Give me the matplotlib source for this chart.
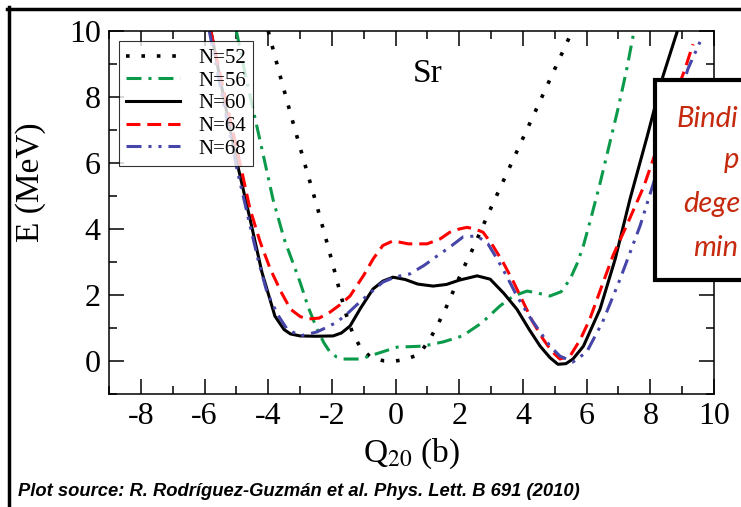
import numpy as np
import matplotlib
matplotlib.use("Agg")
import matplotlib.pyplot as plt
from matplotlib.lines import Line2D
from matplotlib.patches import Rectangle

# valeurs (Q20 en barn, E en MeV)
Q52 = [-4.0, -3.6, -3.2, -2.8, -2.47, -2.2, -1.95, -1.75, -1.55, -1.35, -1.1, -0.8,
       -0.4, 0.0, 0.3, 0.6, 0.85, 1.1, 1.35, 1.6, 1.85, 2.1, 2.4, 2.7, 3.0, 3.5,
       4.0, 4.5, 5.0, 5.5]
E52 = [10.0, 8.55, 7.15, 5.8, 4.7, 3.75, 2.85, 2.1, 1.4, 0.85, 0.4, 0.13,
       0.01, 0.0, 0.05, 0.15, 0.35, 0.7, 1.15, 1.65, 2.2, 2.75, 3.35, 4.0, 4.65, 5.7,
       6.75, 7.8, 8.85, 9.9]

Q56 = [-5.0, -4.7, -4.4, -4.1, -3.85, -3.5, -3.0, -2.75, -2.47, -2.25, -2.06, -1.85,
       -1.65, -1.1, -0.5, 0.05, 0.86, 1.5, 2.1, 2.7, 3.28, 3.7, 4.13, 4.5, 4.85, 5.2,
       5.48, 5.7, 5.9, 6.1, 6.4, 6.7, 7.0, 7.25, 7.47]
E56 = [10.0, 8.6, 7.3, 6.0, 4.9, 3.7, 2.39, 1.65, 0.97, 0.55, 0.27, 0.12,
       0.06, 0.06, 0.25, 0.42, 0.45, 0.58, 0.76, 1.15, 1.67, 1.97, 2.12, 2.05, 1.97, 2.1,
       2.48, 2.95, 3.5, 4.2, 5.3, 6.5, 7.7, 8.8, 9.9]

Q60 = [-5.8, -5.4, -5.0, -4.57, -4.2, -3.79, -3.5, -3.3, -3.0, -2.5, -1.96, -1.7,
       -1.43, -1.1, -0.71, -0.4, -0.08, 0.3, 0.7, 1.18, 1.6, 2.0, 2.56, 2.97, 3.4,
       3.81, 4.2, 4.54, 4.85, 5.1, 5.35, 5.57, 5.9, 6.42, 6.9, 7.36, 7.9, 8.4, 8.85]
E60 = [10.0, 8.0, 6.1, 4.3, 2.7, 1.36, 0.95, 0.82, 0.76, 0.75, 0.76, 0.85,
       1.06, 1.6, 2.18, 2.42, 2.54, 2.47, 2.33, 2.27, 2.32, 2.45, 2.58, 2.48, 2.05,
       1.57, 0.95, 0.45, 0.1, -0.1, -0.08, 0.06, 0.45, 1.57, 3.1, 4.9, 6.8, 8.64, 10.0]

Q64 = [-5.8, -5.4, -5.0, -4.57, -4.25, -3.94, -3.6, -3.3, -3.0, -2.78, -2.4, -2.06,
       -1.75, -1.43, -1.0, -0.7, -0.4, -0.08, 0.4, 0.99, 1.4, 1.7, 2.0, 2.24, 2.5,
       2.75, 3.05, 3.37, 3.7, 4.0, 4.3, 4.63, 4.9, 5.16, 5.48, 5.8, 6.1, 6.45, 6.83,
       7.3, 7.8, 8.3, 8.8, 9.09, 9.34]
E64 = [10.0, 8.2, 6.5, 4.6, 3.6, 2.8, 2.1, 1.57, 1.35, 1.27, 1.3, 1.48,
       1.7, 1.97, 2.6, 3.1, 3.5, 3.64, 3.55, 3.55, 3.7, 3.9, 4.0, 4.05, 4.0,
       3.9, 3.5, 3.0, 2.4, 1.8, 1.2, 0.67, 0.3, 0.06, 0.15, 0.65, 1.27, 2.2, 3.2,
       4.2, 5.3, 6.7, 8.1, 8.85, 9.6]

Q68 = [-5.85, -5.4, -5.0, -4.57, -4.3, -4.04, -3.7, -3.41, -3.0, -2.47, -2.1, -1.84,
       -1.5, -1.12, -0.75, -0.4, 0.0, 0.45, 0.9, 1.3, 1.7, 2.12, 2.56, 2.9, 3.19,
       3.5, 3.81, 4.2, 4.54, 4.85, 5.16, 5.57, 6.0, 6.5, 7.05, 7.68, 8.2, 8.7, 9.18, 9.56]
E68 = [10.0, 7.8, 5.9, 4.1, 3.0, 2.09, 1.4, 0.97, 0.76, 0.88, 1.05, 1.18,
       1.45, 1.79, 2.1, 2.39, 2.55, 2.64, 2.9, 3.18, 3.45, 3.76, 3.79, 3.55, 3.09,
       2.55, 1.97, 1.35, 0.88, 0.45, 0.15, -0.03, 0.27, 1.18, 2.48, 4.1, 5.7, 7.3, 8.85, 9.67]

labels = ["N=52", "N=56", "N=60", "N=64", "N=68"]
xticks = [-8, -6, -4, -2, 0, 2, 4, 6, 8, 10]
yticks = [0, 2, 4, 6, 8, 10]
# morceaux visibles du texte de l'encadré (coupé par le bord de l'image)
box_text = ["Bindi", "p", "dege", "min"]

plt.rcParams["font.family"] = "Liberation Serif"
plt.rcParams["mathtext.fontset"] = "stix"
plt.rcParams["axes.unicode_minus"] = False
plt.rcParams["lines.scale_dashes"] = False

W, H = 741, 507
fig = plt.figure(figsize=(W / 100, H / 100), dpi=100)
ax = fig.add_axes([109 / W, 1 - 394 / H, 605 / W, 363 / H])

styles = [
    dict(color="black", lw=2.6, dashes=(2.6, 8.5)),
    dict(color="#0A9A4A", lw=2.2, dashes=(10.8, 5, 2.2, 5)),
    dict(color="black", lw=2.2),
    dict(color="#FF0000", lw=2.2, dashes=(10, 5)),
    dict(color="#4646AA", lw=2.2, dashes=(10.8, 5, 2.2, 5, 2.2, 5)),
]
series = [(Q52, E52), (Q56, E56), (Q60, E60), (Q64, E64), (Q68, E68)]
for (q, e), st, lab in zip(series, styles, labels):
    ax.plot(q, e, label=lab, dash_capstyle="butt", **st)

ax.set_xlim(-9, 10)
ax.set_ylim(-1, 10)
ax.set_xticks(xticks)
ax.set_yticks(yticks)
ax.set_xticks(np.arange(-9, 11, 1), minor=True)
ax.set_yticks(np.arange(-1, 11, 1), minor=True)
ax.tick_params(which="both", direction="in", top=True, right=True, width=1.1,
               labelsize=23, pad=6)
ax.tick_params(which="major", length=11)
ax.tick_params(which="minor", length=6)
for s in ax.spines.values():
    s.set_linewidth(1.1)

ax.text(1.0, 8.7, "Sr", fontsize=24, ha="center", va="center")

leg = ax.legend(loc="upper left", bbox_to_anchor=(0.0165, 0.9725), fontsize=15,
                handlelength=2.6, handletextpad=0.85, labelspacing=0.15,
                borderpad=0.35, borderaxespad=0, frameon=True, fancybox=False)
leg.get_frame().set_edgecolor("black")
leg.get_frame().set_linewidth(0.8)

fig.text(31 / W, 1 - 182 / H, "E (MeV)", rotation=90, fontsize=24,
         ha="center", va="center")
fig.text(412 / W, 1 - 462 / H, r"Q$_{20}$ (b)", fontsize=24,
         ha="center", va="baseline")

# cadre extérieur (haut et gauche)
fig.add_artist(Line2D([7 / W, 1], [1 - 9 / H, 1 - 9 / H], color="black", lw=2.5,
                      transform=fig.transFigure))
fig.add_artist(Line2D([9 / W, 9 / W], [0, 1 - 7 / H], color="black", lw=2.5,
                      transform=fig.transFigure))

# encadré rouge, coupé par le bord droit
fig.add_artist(Rectangle((655 / W, 1 - 280 / H), 200 / W, 200 / H, facecolor="white",
                         edgecolor="black", lw=3, transform=fig.transFigure))
box_pos = [(677, 127), (724, 168), (683, 212), (693, 256)]
for txt, (px, py) in zip(box_text, box_pos):
    fig.text(px / W, 1 - py / H, txt, fontsize=21, family="Lato", style="italic",
             color="#C62A0E", ha="left", va="baseline")

fig.text(18 / W, 1 - 492 / H,
         "Plot source: R. Rodríguez-Guzmán et al. Phys. Lett. B 691 (2010)",
         family="Liberation Sans", weight="bold", style="italic", fontsize=13.2,
         ha="left", va="center")

fig.savefig("out.png", dpi=100)
